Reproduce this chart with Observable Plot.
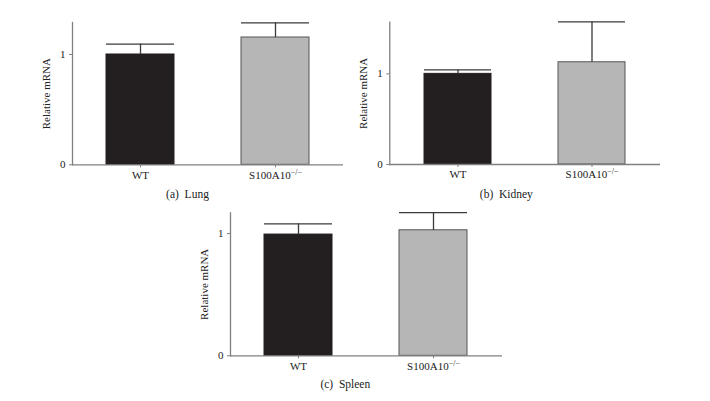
<!DOCTYPE html>
<html>
<head>
<meta charset="utf-8">
<script src="https://cdn.jsdelivr.net/npm/d3@7"></script>
<script src="https://cdn.jsdelivr.net/npm/@observablehq/plot@0.6"></script>
<style>
  html, body { margin: 0; padding: 0; background: #fff; }
  #wrap { position: relative; width: 710px; height: 401px; overflow: hidden; }
  #wrap svg { position: absolute; left: 0; top: 0; }
</style>
</head>
<body>
<div id="wrap"></div>
<script>
const groups = ["WT", "S100A10−/−"];
const lungMean = [1.0, 1.154];
const lungErr = [0.094, 0.133];
const kidneyMean = [1.0, 1.128];
const kidneyErr = [0.044, 0.445];
const spleenMean = [0.992, 1.027];
const spleenErr = [0.087, 0.145];
const yMax = [1.29, 1.57, 1.17];
const yTicks = [0, 1];
const captions = ["(a)  Lung", "(b)  Kidney", "(c)  Spleen"];
const yLabel = "Relative mRNA";
const barFills = ["#231f20", "#b6b6b6"];
const barStrokes = ["#231f20", "#555555"];

const W = 710, H = 401;
const panels = [
  {mean: lungMean, err: lungErr, ymax: yMax[0], cap: captions[0], left: 72, right: 343, top: 22, bottom: 164.3, capDx: 115, capDy: 33.4},
  {mean: kidneyMean, err: kidneyErr, ymax: yMax[1], cap: captions[1], left: 389.3, right: 660, top: 21.7, bottom: 164, capDx: 116.5, capDy: 33.7},
  {mean: spleenMean, err: spleenErr, ymax: yMax[2], cap: captions[2], left: 230, right: 502, top: 212.3, bottom: 355.3, capDx: 114.8, capDy: 32}
];

const wrap = document.getElementById("wrap");
const font = "'Liberation Serif', 'DejaVu Serif', serif";

for (const p of panels) {
  const data = groups.map((g, i) => ({g, m: p.mean[i], e: p.err[i], i}));
  const chart = Plot.plot({
    width: W, height: H,
    marginLeft: p.left, marginRight: W - p.right,
    marginTop: p.top, marginBottom: H - p.bottom,
    style: {fontFamily: font, fontSize: "11px", color: "#222", background: "transparent", overflow: "visible"},
    x: {domain: groups, range: [p.left, p.right - 1], paddingInner: 0.5, paddingOuter: 0.25},
    y: {domain: [0, p.ymax]},
    marks: [
      Plot.barY(data, {x: "g", y: "m", fill: d => barFills[d.i], stroke: d => barStrokes[d.i], strokeWidth: 1}),
      Plot.ruleX(data, {x: "g", y1: "m", y2: d => d.m + d.e, stroke: "#3a3a3a", strokeWidth: 1.3}),
      Plot.tickY(data, {x: "g", y: d => d.m + d.e, stroke: "#3a3a3a", strokeWidth: 1.3}),
      Plot.frame({anchor: "left", stroke: "#808080", strokeWidth: 1.3}),
      Plot.ruleY([0], {stroke: "#808080", strokeWidth: 1.3}),
      Plot.axisY({ticks: yTicks, tickSize: 3, tickPadding: 4, tickFormat: d => String(d), label: null, stroke: "#808080"}),
      Plot.axisX({tickSize: 3, tickPadding: 3, label: null, stroke: "#808080"}),
      Plot.text([yLabel], {frameAnchor: "left", dx: -26.5, rotate: -90, textAnchor: "middle", fill: "#222", fontSize: 11}),
      Plot.text([p.cap], {frameAnchor: "bottom-left", dx: p.capDx, dy: p.capDy, fill: "#222", fontSize: 11.5, textAnchor: "middle"})
    ]
  });
  // superscript for knockout label
  chart.querySelectorAll("g[aria-label='x-axis tick label'] text").forEach(t => {
    const s = t.textContent;
    if (s.startsWith("S100A10")) {
      t.textContent = "S100A10";
      const ts = document.createElementNS("http://www.w3.org/2000/svg", "tspan");
      ts.setAttribute("dy", "-4");
      ts.setAttribute("font-size", "8");
      ts.textContent = s.slice(7);
      t.appendChild(ts);
    }
  });
  wrap.appendChild(chart);
}
</script>
</body>
</html>
